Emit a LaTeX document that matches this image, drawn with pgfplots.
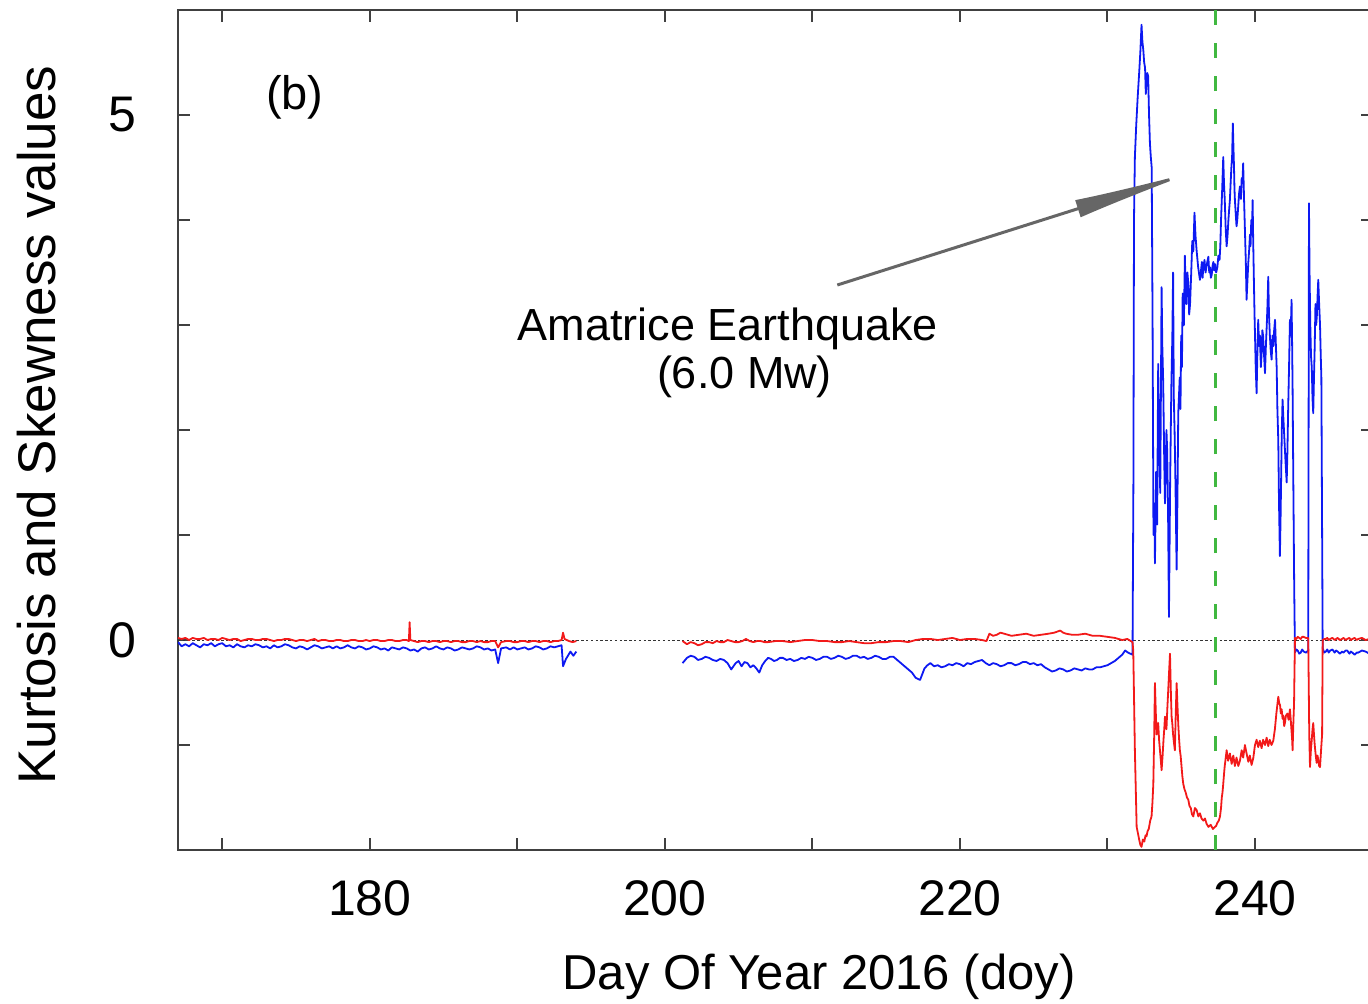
\documentclass[border=0pt]{standalone}
\usepackage{pgfplots}
\pgfplotsset{compat=1.18}
\usepackage{fontspec}
\setmainfont{Liberation Sans}
\usetikzlibrary{arrows.meta}
\definecolor{kblue}{rgb}{0.05,0.1,0.95}
\definecolor{kred}{rgb}{0.95,0.1,0.1}
\definecolor{kgreen}{rgb}{0.25,0.72,0.25}
\begin{document}
\begin{tikzpicture}
\begin{axis}[
  at={(0,0)}, anchor=south west,
  scale only axis, width=597.5pt, height=420pt,
  xmin=167, xmax=248, ymin=-2, ymax=6,
  xtick={180,200,220,240}, minor xtick={170,190,210,230},
  ytick={0,5}, minor ytick={-1,1,2,3,4},
  tick align=inside, major tick length=6pt, minor tick length=6pt,
  axis line style={black!75, line width=1.4pt},
  every tick/.style={black!75, line width=1pt},
  /pgf/number format/assume math mode=true,
  ticklabel style={font=\fontsize{25}{30}\selectfont},
  xticklabel style={anchor=base, yshift=-32.5pt},
  yticklabel style={anchor=east, inner sep=0pt, xshift=-20.5pt},
  xlabel={Day Of Year 2016 (doy)},
  ylabel={Kurtosis and Skewness values},
  xlabel style={at={(axis description cs:0.5364,-0.1655)}, anchor=base, font=\fontsize{24.5}{29}\selectfont},
  ylabel style={at={(axis description cs:-0.1029,0.506)}, anchor=base, rotate=0, font=\fontsize{26.5}{31}\selectfont},
  clip=true,
]
% zero line
\addplot[black!80, line width=0.5pt, dash pattern=on 1.2pt off 1.2pt] coordinates {(167,0) (248,0)};

% ---------- blue, segment 1
\addplot[kblue, line width=0.9pt, line join=round] table {
167.0 -0.02
167.25 -0.06
167.5 -0.04
167.75 -0.06
168.0 -0.03
168.25 -0.05
168.5 -0.07
168.75 -0.04
169.0 -0.05
169.25 -0.03
169.5 -0.06
169.75 -0.04
170.0 -0.03
170.25 -0.06
170.5 -0.05
170.75 -0.07
171.0 -0.04
171.25 -0.06
171.5 -0.07
171.75 -0.05
172.0 -0.06
172.25 -0.04
172.5 -0.05
172.75 -0.07
173.0 -0.06
173.25 -0.08
173.5 -0.05
173.75 -0.07
174.0 -0.06
174.25 -0.04
174.5 -0.05
174.75 -0.07
175.0 -0.08
175.25 -0.06
175.5 -0.07
175.75 -0.09
176.0 -0.07
176.25 -0.05
176.5 -0.06
176.75 -0.08
177.0 -0.07
177.25 -0.06
177.5 -0.08
177.75 -0.06
178.0 -0.08
178.25 -0.07
178.5 -0.05
178.75 -0.07
179.0 -0.08
179.25 -0.06
179.5 -0.07
179.75 -0.09
180.0 -0.08
180.25 -0.06
180.5 -0.07
180.75 -0.09
181.0 -0.08
181.25 -0.10
181.5 -0.07
181.75 -0.08
182.0 -0.09
182.25 -0.07
182.5 -0.08
182.75 -0.10
183.0 -0.09
183.25 -0.11
183.5 -0.08
183.75 -0.07
184.0 -0.09
184.25 -0.08
184.5 -0.06
184.75 -0.08
185.0 -0.09
185.25 -0.07
185.5 -0.08
185.75 -0.10
186.0 -0.09
186.25 -0.07
186.5 -0.08
186.75 -0.09
187.0 -0.08
187.25 -0.06
187.5 -0.07
187.75 -0.09
188.0 -0.08
188.25 -0.10
188.5 -0.09
188.7 -0.22
188.9 -0.08
189.25 -0.07
189.5 -0.09
189.75 -0.07
190.0 -0.09
190.25 -0.08
190.5 -0.07
190.75 -0.09
191.0 -0.08
191.25 -0.06
191.5 -0.07
191.75 -0.09
192.0 -0.08
192.25 -0.06
192.5 -0.07
192.75 -0.06
193.0 -0.05
193.1 -0.25
193.3 -0.18
193.6 -0.11
193.8 -0.15
194.0 -0.11
};
% ---------- blue, segment 2 and event
\addplot[kblue, line width=0.9pt, line join=round] table {
201.2 -0.22
201.5 -0.17
201.75 -0.15
202.0 -0.16
202.25 -0.19
202.5 -0.18
202.75 -0.16
203.0 -0.17
203.25 -0.19
203.5 -0.20
203.75 -0.18
204.0 -0.19
204.25 -0.22
204.5 -0.28
204.8 -0.22
205.0 -0.20
205.2 -0.25
205.4 -0.21
205.6 -0.22
205.8 -0.26
206.0 -0.24
206.2 -0.27
206.4 -0.31
206.6 -0.24
206.8 -0.20
207.0 -0.17
207.2 -0.18
207.4 -0.20
207.6 -0.19
207.8 -0.17
208.0 -0.17
208.25 -0.19
208.5 -0.18
208.75 -0.20
209.0 -0.19
209.25 -0.17
209.5 -0.18
209.75 -0.16
210.0 -0.17
210.25 -0.19
210.5 -0.18
210.75 -0.16
211.0 -0.16
211.25 -0.18
211.5 -0.17
211.75 -0.15
212.0 -0.16
212.25 -0.18
212.5 -0.17
212.75 -0.15
213.0 -0.15
213.25 -0.17
213.5 -0.16
213.75 -0.18
214.0 -0.17
214.25 -0.15
214.5 -0.16
214.75 -0.18
215.0 -0.18
215.25 -0.16
215.5 -0.16
215.75 -0.19
216.0 -0.22
216.25 -0.25
216.5 -0.28
216.75 -0.31
217.0 -0.36
217.3 -0.38
217.6 -0.27
217.8 -0.24
218.0 -0.22
218.25 -0.25
218.5 -0.24
218.75 -0.26
219.0 -0.25
219.25 -0.23
219.5 -0.24
219.75 -0.22
220.0 -0.23
220.25 -0.25
220.5 -0.22
220.75 -0.23
221.0 -0.21
221.25 -0.20
221.5 -0.19
221.75 -0.22
222.0 -0.24
222.25 -0.22
222.5 -0.23
222.75 -0.25
223.0 -0.24
223.25 -0.22
223.5 -0.22
223.75 -0.24
224.0 -0.23
224.25 -0.21
224.5 -0.21
224.75 -0.23
225.0 -0.22
225.25 -0.24
225.5 -0.23
225.75 -0.26
226.0 -0.28
226.25 -0.30
226.5 -0.29
226.75 -0.27
227.0 -0.28
227.25 -0.30
227.5 -0.29
227.75 -0.27
228.0 -0.28
228.25 -0.29
228.5 -0.27
228.75 -0.28
229.0 -0.28
229.25 -0.26
229.5 -0.26
229.75 -0.25
230.0 -0.24
230.25 -0.22
230.5 -0.20
230.75 -0.17
231.0 -0.14
231.2 -0.10
231.4 -0.12
231.70 -0.14
231.76 1.5
231.80 4.0
231.86 4.6
231.95 4.9
232.05 5.17
232.15 5.4
232.23 5.6
232.31 5.86
232.37 5.7
232.43 5.62
232.49 5.5
232.55 5.45
232.60 5.2
232.65 5.3
232.70 5.4
232.76 5.37
232.82 5.0
232.88 4.73
232.94 4.6
233.00 4.5
233.06 3.0
233.12 1.0
233.18 1.3
233.22 0.73
233.30 1.6
233.37 1.1
233.44 2.63
233.50 1.9
233.58 1.4
233.67 3.36
233.72 2.8
233.78 2.45
233.85 1.7
233.90 1.3
234.00 2.0
234.05 1.8
234.11 1.2
234.17 0.22
234.25 1.5
234.33 2.4
234.40 2.9
234.45 3.5
234.50 2.3
234.55 2.0
234.60 1.6
234.69 0.67
234.75 1.4
234.80 2.16
234.90 2.5
234.95 2.2
235.00 2.9
235.05 2.6
235.10 3.3
235.18 3.0
235.25 3.66
235.30 3.3
235.35 3.2
235.42 3.5
235.48 3.4
235.54 3.1
235.60 3.2
235.68 3.5
235.75 3.8
235.82 3.7
235.90 4.07
235.97 3.85
236.05 3.7
236.15 3.55
236.27 3.43
236.33 3.5
236.40 3.6
236.45 3.45
236.50 3.55
236.58 3.62
236.65 3.5
236.74 3.58
236.84 3.65
236.90 3.5
236.95 3.55
237.01 3.45
237.07 3.48
237.12 3.56
237.18 3.6
237.24 3.52
237.29 3.58
237.37 3.5
237.45 3.55
237.52 3.66
237.60 3.62
237.65 3.75
237.70 4.0
237.78 4.3
237.85 4.6
237.90 4.35
237.95 4.2
238.02 3.9
238.08 3.75
238.14 3.85
238.20 4.0
238.25 4.1
238.30 4.19
238.35 4.35
238.40 4.5
238.45 4.6
238.50 4.92
238.54 4.7
238.58 4.5
238.61 4.3
238.64 4.19
238.70 4.05
238.75 3.94
238.80 4.0
238.85 4.1
238.92 4.25
238.98 4.32
239.05 4.2
239.10 4.4
239.15 4.35
239.20 4.54
239.26 4.2
239.32 3.9
239.38 3.6
239.43 3.24
239.50 3.45
239.55 3.6
239.60 3.7
239.66 3.86
239.70 3.75
239.75 4.0
239.80 3.9
239.84 4.19
239.88 3.8
239.93 3.4
239.97 3.1
240.00 2.92
240.05 2.6
240.11 2.35
240.16 2.7
240.22 3.05
240.28 2.8
240.33 2.9
240.40 2.6
240.45 2.73
240.50 2.95
240.55 2.9
240.62 2.7
240.68 2.54
240.74 2.8
240.80 3.0
240.85 3.2
240.90 3.46
240.95 3.1
241.01 2.9
241.07 2.75
241.13 2.67
241.19 2.9
241.25 2.8
241.30 2.95
241.36 3.05
241.42 2.8
241.47 2.6
241.52 2.2
241.58 1.9
241.63 1.3
241.69 0.8
241.74 1.2
241.78 1.6
241.82 2.0
241.87 2.29
241.93 2.1
242.00 1.9
242.07 1.7
242.15 1.5
242.20 1.8
242.25 2.2
242.31 2.6
242.37 3.05
242.42 2.9
242.48 3.24
242.52 2.8
242.55 2.4
242.60 1.5
242.66 0.5
242.71 -0.12
242.80 -0.09
242.90 -0.10
243.00 -0.13
243.10 -0.12
243.20 -0.09
243.30 -0.11
243.45 -0.12
243.61 -0.10
243.66 4.16
243.70 3.5
243.75 3.0
243.80 2.7
243.85 2.6
243.90 2.3
243.95 2.16
244.00 2.5
244.05 2.8
244.10 3.2
244.15 3.0
244.20 3.1
244.25 3.3
244.29 3.43
244.35 3.2
244.41 3.0
244.46 2.7
244.50 2.5
244.59 -0.08
244.70 -0.12
244.80 -0.11
244.90 -0.09
245.00 -0.12
245.10 -0.10
245.25 -0.09
245.40 -0.12
245.50 -0.10
245.60 -0.11
245.75 -0.13
245.90 -0.11
246.00 -0.12
246.15 -0.10
246.25 -0.10
246.40 -0.13
246.50 -0.11
246.60 -0.12
246.75 -0.14
246.90 -0.12
247.00 -0.12
247.25 -0.10
247.50 -0.11
247.75 -0.13
248.00 -0.12
};

% ---------- red, segment 1
\addplot[kred, line width=0.9pt, line join=round] table {
167.0 0.02
167.25 0.01
167.5 0.02
167.75 0.00
168.0 0.02
168.25 0.01
168.5 0.01
168.75 0.02
169.0 0.00
169.25 0.01
169.5 0.01
169.75 0.00
170.0 0.02
170.25 0.01
170.5 0.00
170.75 0.01
171.0 0.01
171.25 -0.01
171.5 0.00
171.75 0.01
172.0 0.01
172.25 0.00
172.5 0.00
172.75 0.01
173.0 0.01
173.25 0.00
173.5 -0.01
173.75 0.00
174.0 0.00
174.25 0.01
174.5 0.01
174.75 0.00
175.0 -0.01
175.25 0.00
175.5 0.00
175.75 -0.01
176.0 0.00
176.25 0.01
176.5 -0.01
176.75 0.00
177.0 0.00
177.25 -0.01
177.5 -0.01
177.75 0.00
178.0 0.00
178.25 -0.01
178.5 -0.01
178.75 0.00
179.0 0.00
179.25 -0.01
179.5 -0.01
179.75 0.00
180.0 -0.01
180.25 0.00
180.5 0.00
180.75 -0.01
181.0 -0.01
181.25 0.00
181.5 0.00
181.75 -0.01
182.0 -0.01
182.25 0.00
182.5 0.00
182.65 -0.01
182.7 0.17
182.75 0.00
183.0 -0.01
183.25 -0.02
183.5 -0.01
183.75 -0.01
184.0 -0.02
184.25 -0.01
184.5 -0.01
184.75 -0.02
185.0 -0.01
185.25 -0.01
185.5 -0.02
185.75 -0.01
186.0 -0.01
186.25 -0.02
186.5 -0.02
186.75 -0.01
187.0 -0.01
187.25 -0.02
187.5 -0.01
187.75 -0.02
188.0 -0.02
188.25 -0.01
188.5 -0.01
188.7 -0.07
188.9 -0.02
189.25 -0.01
189.5 -0.01
189.75 -0.02
190.0 -0.02
190.25 -0.01
190.5 -0.01
190.75 -0.02
191.0 -0.01
191.25 -0.01
191.5 -0.02
191.75 -0.01
192.0 -0.01
192.25 -0.02
192.5 -0.01
192.75 -0.01
193.0 0.00
193.1 0.07
193.2 0.01
193.5 -0.01
193.75 -0.02
194.0 -0.01
};
% ---------- red, segment 2 and event
\addplot[kred, line width=0.9pt, line join=round] table {
201.2 -0.01
201.5 -0.04
201.75 -0.02
202.0 -0.03
202.25 -0.05
202.5 -0.04
202.75 -0.02
203.0 -0.02
203.25 -0.03
203.5 -0.01
203.75 -0.02
204.0 -0.02
204.25 0.00
204.5 -0.01
204.75 -0.02
205.0 -0.02
205.25 -0.01
205.5 0.01
205.75 -0.01
206.0 -0.02
206.25 -0.01
206.5 -0.01
206.75 -0.02
207.0 -0.02
207.5 -0.01
208.0 -0.01
208.5 -0.02
209.0 -0.01
209.5 0.00
210.0 0.00
210.5 -0.01
211.0 -0.01
211.5 -0.02
212.0 -0.02
212.5 -0.01
213.0 -0.02
213.5 -0.03
214.0 -0.03
214.5 -0.02
215.0 -0.02
215.5 -0.01
216.0 -0.01
216.5 -0.02
217.0 0.00
217.5 0.01
218.0 0.01
218.5 0.00
219.0 0.01
219.5 0.02
220.0 0.00
220.5 0.01
221.0 0.01
221.5 0.00
221.8 -0.01
222.0 0.06
222.25 0.04
222.5 0.05
222.75 0.07
223.0 0.06
223.5 0.04
224.0 0.05
224.5 0.06
225.0 0.04
225.5 0.05
226.0 0.06
226.4 0.07
226.8 0.09
227.0 0.07
227.2 0.06
227.6 0.05
228.0 0.05
228.5 0.06
229.0 0.04
229.5 0.04
230.0 0.03
230.5 0.02
231.0 0.00
231.35 0.01
231.70 -0.02
231.75 -0.1
231.86 -1.05
231.98 -1.78
232.08 -1.85
232.15 -1.9
232.23 -1.95
232.31 -1.97
232.40 -1.9
232.50 -1.92
232.58 -1.86
232.65 -1.87
232.72 -1.82
232.80 -1.8
232.90 -1.72
232.99 -1.68
233.05 -1.55
233.11 -1.37
233.17 -0.9
233.22 -0.41
233.28 -0.7
233.33 -0.9
233.38 -0.85
233.44 -0.79
233.50 -0.95
233.56 -1.05
233.62 -1.15
233.67 -1.24
233.74 -1.1
233.80 -0.95
233.85 -0.85
233.90 -0.73
233.95 -0.8
234.00 -0.85
234.06 -0.65
234.12 -0.48
234.18 -0.3
234.24 -0.13
234.30 -0.5
234.35 -0.73
234.40 -0.8
234.45 -0.9
234.51 -0.98
234.57 -1.05
234.63 -0.7
234.69 -0.41
234.74 -0.6
234.80 -0.8
234.86 -0.95
234.91 -1.05
234.96 -1.1
235.02 -1.2
235.08 -1.3
235.14 -1.37
235.22 -1.42
235.30 -1.45
235.39 -1.5
235.48 -1.52
235.56 -1.58
235.65 -1.6
235.73 -1.66
235.82 -1.68
235.93 -1.6
236.05 -1.62
236.16 -1.68
236.27 -1.65
236.38 -1.7
236.50 -1.72
236.61 -1.7
236.72 -1.75
236.85 -1.78
237.00 -1.76
237.15 -1.8
237.29 -1.78
237.37 -1.77
237.45 -1.74
237.55 -1.72
237.63 -1.68
237.70 -1.6
237.75 -1.5
237.80 -1.45
237.85 -1.37
237.90 -1.28
237.95 -1.2
238.02 -1.12
238.08 -1.05
238.18 -1.15
238.30 -1.08
238.42 -1.18
238.53 -1.10
238.64 -1.2
238.75 -1.12
238.87 -1.2
238.98 -1.15
239.10 -1.05
239.20 -1.12
239.32 -1.0
239.43 -1.08
239.55 -1.16
239.65 -1.1
239.77 -1.19
239.89 -1.12
240.00 -1.0
240.11 -0.95
240.22 -1.02
240.33 -0.96
240.45 -1.03
240.55 -0.95
240.68 -1.0
240.79 -0.93
240.90 -1.01
241.00 -0.95
241.12 -1.0
241.24 -0.96
241.35 -0.85
241.45 -0.7
241.58 -0.54
241.64 -0.6
241.70 -0.62
241.75 -0.7
241.81 -0.66
241.87 -0.75
241.92 -0.72
241.98 -0.82
242.03 -0.79
242.10 -0.72
242.20 -0.7
242.28 -0.76
242.37 -0.66
242.42 -0.75
242.47 -0.85
242.52 -0.95
242.55 -1.05
242.60 -0.8
242.65 -0.6
242.71 0.02
242.80 0.01
242.90 0.03
243.00 0.02
243.10 0.01
243.20 0.03
243.30 0.03
243.45 0.02
243.61 0.02
243.68 -0.9
243.73 -1.21
243.79 -1.05
243.85 -0.95
243.90 -0.85
243.95 -0.79
244.00 -0.9
244.05 -1.0
244.12 -1.1
244.18 -1.17
244.24 -1.1
244.30 -1.15
244.35 -1.2
244.41 -1.21
244.48 -1.05
244.55 -0.9
244.59 0.00
244.70 0.01
244.80 0.01
244.90 0.02
245.00 0.00
245.10 0.01
245.25 0.02
245.40 0.00
245.50 0.01
245.60 0.02
245.75 0.00
245.90 0.01
246.00 0.02
246.15 0.00
246.25 0.01
246.40 0.02
246.50 0.00
246.60 0.01
246.75 0.02
246.90 0.00
247.00 0.01
247.25 0.02
247.50 0.00
247.75 0.01
248.00 0.01
};

% earthquake marker
\addplot[kgreen, line width=1.6pt, dash pattern=on 7.5pt off 9pt] coordinates {(237.3,-2) (237.3,6)};

% annotation
\draw[black!60, line width=1.5pt, -{Latex[length=64pt,width=9pt]}] (axis cs:211.69,3.381) -- (axis cs:236.27,4.476);
\node[anchor=base, font=\fontsize{22.5}{27}\selectfont, inner sep=0pt] at (axis cs:204.27,2.857) {Amatrice Earthquake};
\node[anchor=base, font=\fontsize{22.5}{27}\selectfont, inner sep=0pt] at (axis cs:205.4,2.40) {(6.0 Mw)};
\node[anchor=center, font=\fontsize{23.5}{28}\selectfont] at (axis cs:174.92,5.17) {(b)};
\end{axis}
\pgfresetboundingbox
\useasboundingbox (-89pt,-76.5pt) rectangle (595pt,425pt);
\end{tikzpicture}
\end{document}
